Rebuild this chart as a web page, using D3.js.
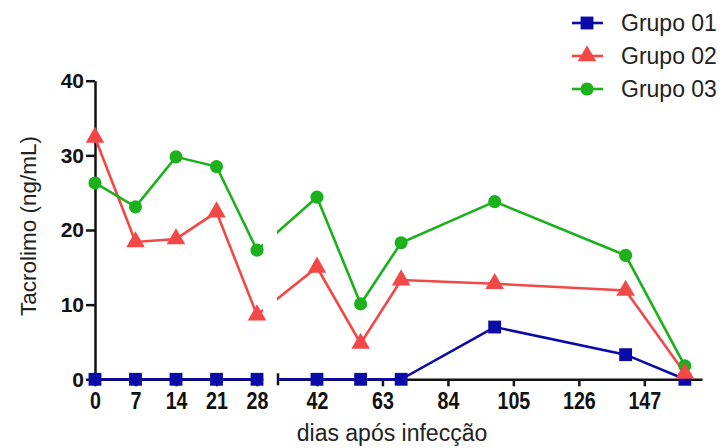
<!DOCTYPE html>
<head>
  <meta charset="utf-8">
  <style>
    body { margin: 0; background: #fff; font-family: "Liberation Sans", Arial, sans-serif; }
    .tick text { font-weight: bold; fill: #111; }
  </style>
</head>
<svg width="724" height="448"></svg>
<script src="https://d3js.org/d3.v7.min.js"></script>
<script>
  // days after infection
  const days = [0, 7, 14, 21, 28, 42, 56, 69, 99, 141, 160];
  const grupo01 = [0, 0, 0, 0, 0, 0, 0, 0, 7.0, 3.3, 0];
  const grupo02 = [32.4, 18.4, 18.8, 22.4, 8.6, 15.0, 4.8, 13.3, 12.8, 11.9, 0.8];
  const grupo03 = [26.3, 23.1, 29.8, 28.5, 17.3, 24.4, 10.1, 18.3, 23.8, 16.6, 1.8];
  const seriesNames = ["Grupo 01", "Grupo 02", "Grupo 03"];
  const xTicks1 = [0, 7, 14, 21, 28];
  const xTicks2 = [42, 63, 84, 105, 126, 147];
  const yTicks = [0, 10, 20, 30, 40];

  const svg = d3.select("svg");

  // broken x axis: two pieces
  const x1 = d3.scaleLinear().domain([0, 29]).range([95, 262.8]);
  const x2 = d3.scaleLinear().domain([29.5, 165.5]).range([278, 702]);
  const x = d => d <= 29 ? x1(d) : x2(d);
  const y = d3.scaleLinear().domain([0, 40]).range([379.3, 80.7]);

  const colors = ["#0b0ba8", "#f24848", "#1cb01c"];
  const series = [grupo01, grupo02, grupo03].map((vals, i) => ({
    name: seriesNames[i],
    color: colors[i],
    shape: [d3.symbolSquare, d3.symbolTriangle, d3.symbolCircle][i],
    size: [165, 150, 135][i],
    points: days.map((d, j) => ({ day: d, v: vals[j] }))
  }));

  // clip so segments crossing the gap are hidden
  const clip = svg.append("defs").append("clipPath").attr("id", "gap");
  clip.append("rect").attr("x", 0).attr("y", 0).attr("width", 263).attr("height", 448);
  clip.append("rect").attr("x", 277).attr("y", 0).attr("width", 447).attr("height", 448);

  // axes
  svg.append("g")
    .attr("class", "yaxis")
    .attr("transform", "translate(95,0)")
    .call(d3.axisLeft(y).tickValues(yTicks).tickSize(9).tickSizeOuter(0).tickPadding(2));

  svg.append("g")
    .attr("class", "xaxis")
    .attr("transform", "translate(0," + y(0) + ")")
    .call(d3.axisBottom(x1).tickValues(xTicks1).tickSize(7).tickSizeOuter(0).tickPadding(6));
  svg.append("g")
    .attr("class", "xaxis")
    .attr("transform", "translate(0," + y(0) + ")")
    .call(d3.axisBottom(x2).tickValues(xTicks2).tickSize(7).tickSizeOuter(0).tickPadding(6));

  svg.selectAll(".domain, .tick line")
    .attr("stroke", "#111")
    .attr("stroke-width", 2.5);
  svg.selectAll(".yaxis .tick text")
    .style("font-family", "'Liberation Sans', Arial, sans-serif")
    .style("font-size", "21px");
  // x tick labels look tall and narrow in the original
  svg.selectAll(".xaxis .tick text")
    .style("font-family", "'Liberation Sans', Arial, sans-serif")
    .style("font-size", "24px")
    .style("transform-box", "fill-box")
    .style("transform-origin", "center")
    .style("transform", "scaleX(0.82)");

  // end cap at start of second x segment
  svg.append("line")
    .attr("x1", x2.range()[0]).attr("x2", x2.range()[0])
    .attr("y1", y(0) - 6).attr("y2", y(0) + 6)
    .attr("stroke", "#111").attr("stroke-width", 2.5);

  // axis titles
  svg.append("text")
    .attr("transform", "translate(36,226) rotate(-90)")
    .attr("text-anchor", "middle")
    .style("font-size", "22.5px")
    .style("fill", "#222")
    .text("Tacrolimo (ng/mL)");

  svg.append("text")
    .attr("x", 392).attr("y", 441)
    .attr("text-anchor", "middle")
    .style("font-size", "23px")
    .style("fill", "#222")
    .text("dias após infecção");

  // lines
  const line = d3.line().x(d => x(d.day)).y(d => y(d.v));
  svg.append("g").attr("clip-path", "url(#gap)")
    .selectAll("path")
    .data(series)
    .enter().append("path")
    .attr("d", s => line(s.points))
    .attr("fill", "none")
    .attr("stroke", s => s.color)
    .attr("stroke-width", 2.6);

  // markers (red on top)
  const order = [series[0], series[2], series[1]];
  order.forEach(s => {
    svg.append("g")
      .selectAll("path")
      .data(s.points)
      .enter().append("path")
      .attr("transform", d => "translate(" + x(d.day) + "," + y(d.v) + ")")
      .attr("d", d3.symbol().type(s.shape).size(s.size))
      .attr("fill", s.color);
  });

  // legend
  const legend = svg.append("g");
  series.forEach((s, i) => {
    const ly = 23 + i * 33;
    legend.append("line")
      .attr("x1", 572).attr("x2", 603)
      .attr("y1", ly).attr("y2", ly)
      .attr("stroke", s.color).attr("stroke-width", 2.6);
    legend.append("path")
      .attr("transform", "translate(587," + ly + ")")
      .attr("d", d3.symbol().type(s.shape).size(s.size))
      .attr("fill", s.color);
    legend.append("text")
      .attr("x", 621).attr("y", ly + 8)
      .style("font-size", "23px")
      .style("fill", "#222")
      .text(s.name);
  });
</script>
